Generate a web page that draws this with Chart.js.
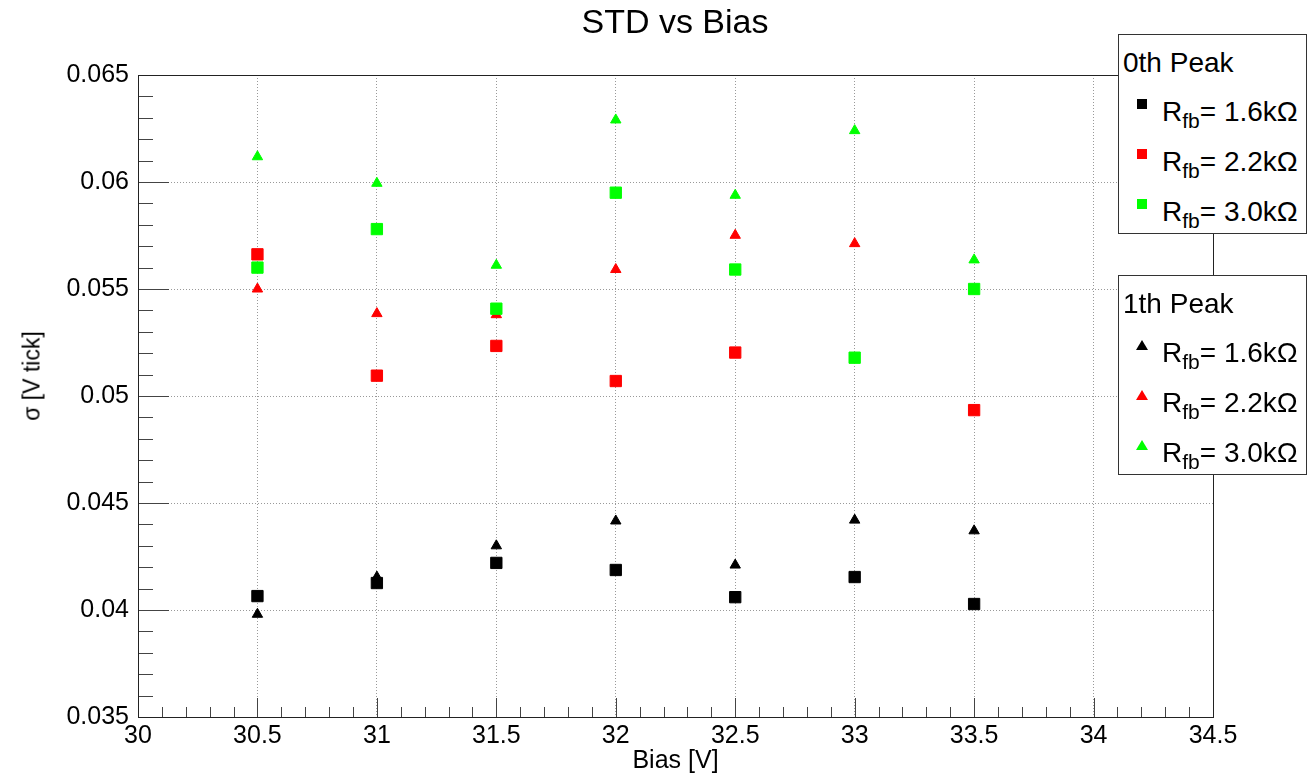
<!DOCTYPE html>
<html>
<head>
<meta charset="utf-8">
<script src="https://cdn.jsdelivr.net/npm/chart.js@4"></script>
<style>
  body { margin: 0; background: #fff; font-family: "Liberation Sans", Arial, sans-serif; }
  #wrap { position: relative; width: 1315px; height: 776px; }
  #titulo {
    position: absolute; left: 675px; top: 21px;
    transform: translate(-50%, -50%);
    font-size: 34px; line-height: 34px; white-space: nowrap; color: #000;
  }
  #ytitle {
    position: absolute; left: 32px; top: 376px;
    transform: translate(-50%, -50%) rotate(-90deg);
    font-size: 23px; white-space: nowrap; color: #000;
  }
  .leg {
    position: absolute; left: 1118px; width: 189px; height: 200px;
    border: 1px solid #333; background: #fff; box-sizing: border-box;
  }
  .leg .head { position: absolute; left: 4px; top: 14px; font-size: 28px; line-height: 28px; }
  .leg .row { position: absolute; left: 43px; font-size: 28px; line-height: 28px; white-space: nowrap; }
  .leg .row sub { font-size: 21px; vertical-align: -7px; line-height: 0; }
  .leg .mk { position: absolute; }
</style>
</head>
<body>
<div id="wrap">
  <canvas id="chart" width="1315" height="776"></canvas>
  <div id="titulo">STD vs Bias</div>
  <div id="ytitle">σ [V tick]</div>
  <div class="leg" id="leg0" style="top:34px"></div>
  <div class="leg" id="leg1" style="top:275px"></div>
</div>
<script>
// Datos
const bias = [30.5, 31, 31.5, 32, 32.5, 33, 33.5];

const rfbLabels = ['1.6', '2.2', '3.0'];
const colores = ['#000000', '#ff0000', '#00ff00'];

// 0th Peak (cuadrados)
const peak0_16 = [0.04065, 0.04126, 0.0422, 0.04187, 0.0406, 0.04154, 0.04028];
const peak0_22 = [0.05662, 0.05095, 0.05234, 0.0507, 0.05203, null, 0.04934];
const peak0_30 = [0.0560, 0.0578, 0.05408, 0.0595, 0.05591, 0.05179, 0.0550];

// 1th Peak (triangulos)
const peak1_16 = [0.0398, 0.04154, 0.0430, 0.04416, 0.0421, 0.0442, 0.0437];
const peak1_22 = [0.0550, 0.05385, 0.0538, 0.05591, 0.05751, 0.05712, null];
const peak1_30 = [0.06118, 0.05994, 0.05611, 0.0629, 0.05938, 0.0624, 0.05636];

const yTicks = [0.035, 0.04, 0.045, 0.05, 0.055, 0.06, 0.065];
const xTicks = [30, 30.5, 31, 31.5, 32, 32.5, 33, 33.5, 34, 34.5];

const FONT = '"Liberation Sans", Arial, sans-serif';

function serie(vals, color, style, radius) {
    return {
        data: bias.map((x, i) => ({ x: x, y: vals[i] })),
        backgroundColor: color,
        borderColor: color,
        borderWidth: 1,
        pointStyle: style,
        pointRadius: radius,
        pointHoverRadius: radius,
        showLine: false
    };
}

// marco y marcas menores estilo ROOT
const marco = {
    id: 'marco',
    afterDraw(chart) {
        const { ctx, chartArea: a } = chart;
        const xs = chart.scales.x, ys = chart.scales.y;
        ctx.save();
        ctx.strokeStyle = '#444';
        ctx.lineWidth = 1;
        ctx.beginPath();
        for (let i = 0; i <= 30; i++) {
            const py = Math.round(ys.getPixelForValue(ys.min + i * 0.001)) + 0.5;
            const len = i % 5 === 0 ? 31 : 15;
            ctx.moveTo(a.left, py);
            ctx.lineTo(a.left + len, py);
        }
        for (let i = 0; i <= 45; i++) {
            const px = Math.round(xs.getPixelForValue(xs.min + i * 0.1)) + 0.5;
            const len = i % 5 === 0 ? 19 : 10;
            ctx.moveTo(px, a.bottom);
            ctx.lineTo(px, a.bottom - len);
        }
        ctx.stroke();
        ctx.strokeStyle = '#222';
        ctx.strokeRect(Math.round(a.left) + 0.5, Math.round(a.top) + 0.5,
            Math.round(a.right - a.left), Math.round(a.bottom - a.top));
        ctx.restore();
    }
};

new Chart(document.getElementById('chart').getContext('2d'), {
    type: 'scatter',
    data: {
        datasets: [
            serie(peak0_16, colores[0], 'rect', 8),
            serie(peak0_22, colores[1], 'rect', 8),
            serie(peak0_30, colores[2], 'rect', 8),
            serie(peak1_16, colores[0], 'triangle', 6),
            serie(peak1_22, colores[1], 'triangle', 6),
            serie(peak1_30, colores[2], 'triangle', 6)
        ]
    },
    options: {
        responsive: false,
        animation: false,
        layout: { padding: { right: 102, left: 0, top: 75, bottom: 0 }, autoPadding: false },
        plugins: {
            legend: { display: false },
            tooltip: { enabled: false },
            title: { display: false }
        },
        scales: {
            x: {
                type: 'linear',
                min: 30, max: 34.5,
                afterBuildTicks: s => { s.ticks = xTicks.map(v => ({ value: v })); },
                afterFit: s => { s.height = 59; },
                ticks: {
                    color: '#000',
                    padding: 4,
                    maxRotation: 0,
                    font: { family: FONT, size: 25 },
                    callback: v => String(+v.toFixed(1))
                },
                grid: { color: '#999', drawTicks: false },
                border: { display: false, dash: [1, 2] },
                title: {
                    display: true, text: 'Bias [V]', color: '#000',
                    font: { family: FONT, size: 25 },
                    padding: { top: 0, bottom: 0 }
                }
            },
            y: {
                type: 'linear',
                min: 0.035, max: 0.065,
                afterBuildTicks: s => { s.ticks = yTicks.map(v => ({ value: v })); },
                afterFit: s => { s.width = 138; },
                ticks: {
                    color: '#000',
                    padding: 9,
                    font: { family: FONT, size: 25 },
                    callback: v => String(+v.toFixed(3))
                },
                grid: { color: '#999', drawTicks: false },
                border: { display: false, dash: [1, 2] }
            }
        }
    },
    plugins: [marco]
});

// leyendas
function leyenda(id, titulo, forma) {
    const box = document.getElementById(id);
    let html = '<div class="head">' + titulo + '</div>';
    const filas = [63, 113, 163];
    rfbLabels.forEach((r, i) => {
        const cy = filas[i];
        if (forma === 'rect') {
            html += '<div class="mk" style="left:18px;top:' + (cy + 1) + 'px;width:10px;height:10px;background:' + colores[i] + '"></div>';
        } else {
            html += '<div class="mk" style="left:17px;top:' + (cy + 1) + 'px;width:0;height:0;border-left:6px solid transparent;border-right:6px solid transparent;border-bottom:10px solid ' + colores[i] + '"></div>';
        }
        html += '<div class="row" style="top:' + cy + 'px">R<sub>fb</sub>= ' + r + 'kΩ</div>';
    });
    box.innerHTML = html;
}
leyenda('leg0', '0th Peak', 'rect');
leyenda('leg1', '1th Peak', 'triangle');
</script>
</body>
</html>
